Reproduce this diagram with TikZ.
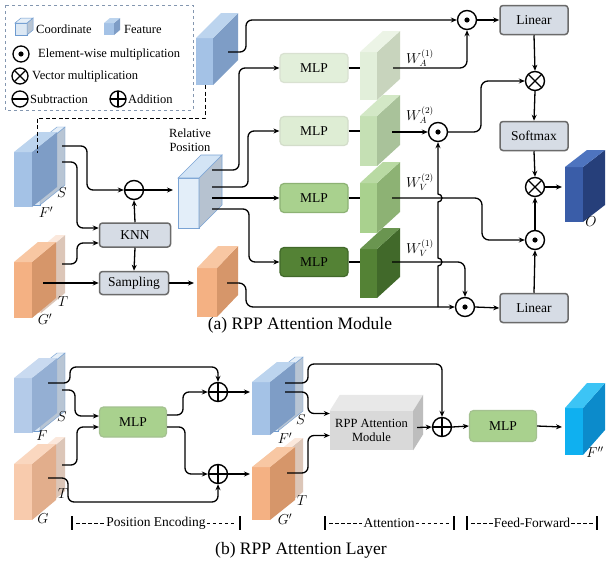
\documentclass[tikz,border=0pt]{standalone}
\usepackage{fontspec}
\setmainfont{Liberation Serif}
\usetikzlibrary{arrows.meta,calc}
\newcommand{\myfs}[1]{\fontsize{#1}{#1}\selectfont}
\newcommand{\cuboid}[9]{%
  \path[#7] (#1,#2) rectangle ++(#3,#4);
  \path[#8] ({#1+#3},#2) -- ++(#5,-#6) -- ++(0,#4) -- ++(-#5,#6) -- cycle;
  \path[#9] (#1,#2) -- ++(#5,-#6) -- ++(#3,0) -- ++(-#5,#6) -- cycle;}
\definecolor{blueF}{HTML}{A4C2E6}\definecolor{blueS}{HTML}{7E9DC6}\definecolor{blueT}{HTML}{BCD4EE}
\definecolor{bblF}{HTML}{B4CBE9}\definecolor{bblS}{HTML}{94AFD3}\definecolor{bblT}{HTML}{C9DAF0}
\definecolor{coordF}{HTML}{DCE8F4}\definecolor{coordS}{HTML}{B8C5D4}\definecolor{coordT}{HTML}{E6EFF8}\definecolor{coordL}{HTML}{6E9BD0}
\definecolor{orF}{HTML}{F4B183}\definecolor{orS}{HTML}{D6966A}\definecolor{orT}{HTML}{F8C7A3}
\definecolor{borF}{HTML}{F8CBAD}\definecolor{borS}{HTML}{E2AE8C}\definecolor{borT}{HTML}{FAD7BF}
\definecolor{ocF}{HTML}{F9DECD}\definecolor{ocS}{HTML}{DCC6B8}\definecolor{ocT}{HTML}{FBE8DC}
\definecolor{relF}{HTML}{E3EEF9}\definecolor{relS}{HTML}{B6C2D0}\definecolor{relT}{HTML}{D3E4F5}\definecolor{relL}{HTML}{7AA3D4}
\definecolor{gfill}{HTML}{D6DCE5}\definecolor{gline}{HTML}{6B6B6B}
\definecolor{oF}{HTML}{3A5DA8}\definecolor{oS}{HTML}{263F7A}\definecolor{oT}{HTML}{4E74BF}
\definecolor{ffF}{HTML}{0FB0F0}\definecolor{ffS}{HTML}{0C8BCB}\definecolor{ffT}{HTML}{3CC4F5}
\definecolor{rF}{HTML}{D9D9D9}\definecolor{rT}{HTML}{E8E8E8}\definecolor{rS}{HTML}{BDBDBD}
\definecolor{g1F}{HTML}{E2EFDA}\definecolor{g1S}{HTML}{C8D4BD}\definecolor{g1T}{HTML}{ECF4E6}
\definecolor{g2F}{HTML}{C5E0B4}\definecolor{g2S}{HTML}{A9C29A}\definecolor{g2T}{HTML}{D3E8C6}
\definecolor{g3F}{HTML}{A9D18E}\definecolor{g3S}{HTML}{8DB274}\definecolor{g3T}{HTML}{B9DAA3}
\definecolor{g4F}{HTML}{548235}\definecolor{g4S}{HTML}{41692A}\definecolor{g4T}{HTML}{6A9550}
\definecolor{legL}{HTML}{8497B0}
\begin{document}
\begin{tikzpicture}[x=1pt,y=-1pt,
  arr/.style={-{Stealth[length=6pt,width=5pt]}, line width=1.3pt},
  ln/.style={line width=1.3pt},
  rc/.style={rounded corners=6pt},
  op/.style={circle, draw, line width=1.4pt, fill=white, minimum size=19pt, inner sep=0pt},
  lop/.style={minimum size=16pt, line width=1.3pt},
  odot/.style={op, path picture={\fill[black] (path picture bounding box.center) circle (2.6pt);}},
  otimes/.style={op, path picture={\draw[black, line width=1.3pt] (path picture bounding box.north west) -- (path picture bounding box.south east) (path picture bounding box.north east) -- (path picture bounding box.south west);}},
  oplus/.style={op, path picture={\draw[black, line width=1.3pt] (path picture bounding box.north) -- (path picture bounding box.south) (path picture bounding box.west) -- (path picture bounding box.east);}},
  ominus/.style={op, path picture={\draw[black, line width=1.3pt] (path picture bounding box.west) -- (path picture bounding box.east);}},
  gbox/.style={draw=gline, fill=gfill, line width=1.5pt, rounded corners=3pt, minimum width=68pt, minimum height=29pt, inner sep=0pt, font=\myfs{13.5}},
  mbox/.style={line width=1.2pt, rounded corners=4pt, minimum width=68pt, minimum height=29pt, inner sep=0pt, font=\myfs{13.5}},
  lt/.style={font=\myfs{12.5}, inner sep=0pt, anchor=west},
  lab/.style={font=\myfs{14}, inner sep=0pt},
  wl/.style={font=\myfs{13.5}, inner sep=0pt},
  captxt/.style={font=\myfs{17.5}, inner sep=0pt},
  brtxt/.style={font=\myfs{13.5}, inner sep=1pt, fill=white},
  brdash/.style={line width=0.8pt, dash pattern=on 3.5pt off 2.5pt},
  barline/.style={line width=1.6pt}]
\useasboundingbox (0,0) rectangle (610,562);
\fill[white] (0,0) rectangle (610,562);

% ---------- legend ----------
\draw[legL, dashed, line width=0.9pt] (5,5) rectangle (193,110);
\cuboid{15}{23}{12}{12}{6}{5}{fill=coordF,draw=coordL,line width=0.5pt}{fill=coordS,draw=coordL,line width=0.5pt}{fill=coordT,draw=coordL,line width=0.5pt}
\node[lt] (lc) at (36,29) {Coordinate};
\cuboid{104}{23}{10}{12}{6}{5}{fill=blueF}{fill=blueS}{fill=blueT}
\node[lt] (lf) at (124,29) {Feature};
\node[odot, lop] (l1) at (21,54) {};
\node[lt] (l1t) at (38,54) {Element-wise multiplication};
\node[otimes, lop] (l2) at (20,76) {};
\node[lt] (l2t) at (32,76) {Vector multiplication};
\node[ominus, lop] (l3) at (20,99) {};
\node[lt] (l3t) at (30,99) {Subtraction};
\node[oplus, lop] (l4) at (118,99) {};
\node[lt] (l4t) at (128,99) {Addition};

% ---------- part (a) cuboids ----------
\cuboid{196}{38}{17}{47}{25}{25}{fill=blueF}{fill=blueS}{fill=blueT}
% F'
\cuboid{32}{147}{8}{58}{25}{20}{fill=coordF,draw=coordL,line width=0.4pt}{fill=coordS,draw=coordL,line width=0.4pt}{fill=coordT,draw=coordL,line width=0.4pt}
\cuboid{14}{152}{18}{55}{25}{20}{fill=blueF}{fill=blueS}{fill=blueT}
% G'
\cuboid{32}{255}{9}{58}{24}{20}{fill=ocF}{fill=ocS}{fill=ocT}
\cuboid{14}{262}{18}{56}{24}{20}{fill=orF}{fill=orS}{fill=orT}
% sampled
\cuboid{197}{268}{20}{49}{21}{22}{fill=orF}{fill=orS}{fill=orT}
% relative position
\cuboid{178}{178}{21}{50}{23}{23}{fill=relF,draw=relL,line width=0.6pt}{fill=relS,draw=relL,line width=0.6pt}{fill=relT,draw=relL,line width=0.6pt}
% green
\cuboid{360}{52}{17}{48}{23}{21}{fill=g1F}{fill=g1S}{fill=g1T}
\cuboid{360}{116}{17}{50}{23}{21}{fill=g2F}{fill=g2S}{fill=g2T}
\cuboid{360}{183}{17}{50}{23}{21}{fill=g3F}{fill=g3S}{fill=g3T}
\cuboid{360}{249}{17}{49}{23}{21}{fill=g4F}{fill=g4S}{fill=g4T}
% O
\cuboid{565}{167}{18}{55}{22}{17}{fill=oF}{fill=oS}{fill=oT}

% labels (a)
\node[lab] (lS1) at (62,193) {$S$};
\node[lab] (lF1) at (46,212) {$F'$};
\node[lab] (lT1) at (63,302) {$T$};
\node[lab] (lG1) at (45,319) {$G'$};
\node[lab] (lO) at (591,222) {$O$};
\node[font=\myfs{12.5}, align=center, inner sep=0pt] (relt) at (190,140) {Relative\\[1pt]Position};
\node[wl] (wa1) at (420,58) {$W_A^{(1)}$};
\node[wl] (wa2) at (420,115) {$W_A^{(2)}$};
\node[wl] (wv2) at (420,182) {$W_V^{(2)}$};
\node[wl] (wv1) at (420,248) {$W_V^{(1)}$};

% nodes (a)
\node[ominus] (sub) at (134,190) {};
\node[gbox, minimum width=71pt, minimum height=24pt] (knn) at (135,235) {KNN};
\node[gbox, minimum width=69pt, minimum height=23pt] (samp) at (134,283) {Sampling};
\node[mbox, fill=g1F, draw=g1S!70] (mlp1) at (314,68) {MLP};
\node[mbox, fill=g1F!85!g2F, draw=g1S!80] (mlp2) at (314,131) {MLP};
\node[mbox, fill=g3F, draw=g3S] (mlp3) at (314,198) {MLP};
\node[mbox, fill=g4F, draw=g4S] (mlp4) at (314,262) {MLP};
\node[odot] (o1) at (467,20) {};
\node[odot] (o2) at (438,132) {};
\node[odot] (o3) at (535,240) {};
\node[odot] (o4) at (465,307) {};
\node[otimes] (x1) at (535,81) {};
\node[otimes] (x2) at (535,187) {};
\node[gbox] (lin1) at (534,20) {Linear};
\node[gbox] (soft) at (534,136) {Softmax};
\node[gbox] (lin2) at (534,308) {Linear};

% coordinates (a)
\coordinate (tf) at (228,52);
\coordinate (s1) at (62,146);
\coordinate (s2) at (62,162);
\coordinate (t1) at (62,264);
\coordinate (g1) at (43,283);
\coordinate (sampin) at (194,283);
\coordinate (relin) at (173,190);
\coordinate (r1) at (212,170);
\coordinate (r2) at (212,187);
\coordinate (r3) at (212,198);
\coordinate (r4) at (212,209);
\coordinate (c1i) at (360,68);
\coordinate (c2i) at (360,131);
\coordinate (c3i) at (360,198);
\coordinate (c4i) at (360,262);
\coordinate (c1o) at (393,68);
\coordinate (c2o) at (392,132);
\coordinate (c3o) at (392,198);
\coordinate (c4o) at (392,262);
\coordinate (samo) at (227,283);
\coordinate (brc) at (438,307);
\coordinate (oin) at (562,187);

% connectors (a)
\draw[arr, rc] (tf) -- (246,52) |- (o1.west);
\draw[arr, rc] (s1) -- (87,146) |- (sub.west);
\draw[arr, rc] (s2) -- (77,162) |- ($(knn.west)+(0,-7)$);
\draw[arr, rc] (t1) -- (77,264) |- ($(knn.west)+(0,8)$);
\draw[arr] (g1) -- (samp.west);
\draw[arr] (knn.north) -- (sub.south);
\draw[arr] (knn.south) -- (samp.north);
\draw[arr] (samp.east) -- (sampin);
\draw[arr] (sub.east) -- (relin);
\draw[arr, rc] (r1) -- (239,170) |- (mlp1.west);
\draw[arr, rc] (r2) -- (248,187) |- (mlp2.west);
\draw[arr] (r3) -- (mlp3.west);
\draw[arr, rc] (r4) -- (249,209) |- (mlp4.west);
\draw[ln] (mlp1.east) -- (c1i);
\draw[ln] (mlp2.east) -- (c2i);
\draw[ln] (mlp3.east) -- (c3i);
\draw[ln] (mlp4.east) -- (c4i);
\draw[arr, rounded corners=7pt] (c1o) -| (o1.south);
\draw[arr] (c2o) -- (o2.west);
\draw[arr, rounded corners=7pt] (o2.east) -- (481,132) |- (x1.west);
\draw[arr, rounded corners=7pt] (c3o) -- (482,198) |- (o3.west);
\draw[arr, rounded corners=7pt] (c4o) -| (o4.north);
\draw[arr, rounded corners=7pt] (samo) -- (246,283) |- (o4.west);
\draw[arr] (brc) -- (438,266) arc[start angle=90,end angle=-90,radius=4] -- (438,202) arc[start angle=90,end angle=-90,radius=4] -- (o2.south);
\draw[arr] (o1.east) -- (lin1.west);
\draw[arr] (lin1.south) -- (x1.north);
\draw[arr] (x1.south) -- (soft.north);
\draw[arr] (soft.south) -- (x2.north);
\draw[arr] (x2.east) -- (oin);
\draw[arr] (o3.north) -- (x2.south);
\draw[arr] (lin2.north) -- (o3.south);
\draw[arr] (o4.east) -- (lin2.west);
% dashed link legend -> F'
\coordinate (fb) at (205,85);
\coordinate (fct) at (37,153);
\draw[line width=0.9pt, dash pattern=on 4pt off 2.5pt] (fb) -- (205,118) -- (37,118) -- (fct);

\node[captxt] (capa) at (300,325) {(a) RPP Attention Module};

% ---------- part (b) ----------
\cuboid{32}{373}{8}{58}{25}{20}{fill=coordF,draw=coordL,line width=0.4pt}{fill=coordS,draw=coordL,line width=0.4pt}{fill=coordT,draw=coordL,line width=0.4pt}
\cuboid{14}{378}{18}{55}{25}{20}{fill=bblF}{fill=bblS}{fill=bblT}
\cuboid{32}{457}{9}{54}{24}{20}{fill=ocF}{fill=ocS}{fill=ocT}
\cuboid{14}{464}{18}{56}{24}{20}{fill=borF}{fill=borS}{fill=borT}
\cuboid{270}{377}{8}{54}{25}{20}{fill=coordF,draw=coordL,line width=0.4pt}{fill=coordS,draw=coordL,line width=0.4pt}{fill=coordT,draw=coordL,line width=0.4pt}
\cuboid{252}{382}{18}{53}{25}{20}{fill=blueF}{fill=blueS}{fill=blueT}
\cuboid{270}{458}{8}{54}{25}{20}{fill=ocF}{fill=ocS}{fill=ocT}
\cuboid{252}{467}{18}{53}{25}{20}{fill=orF}{fill=orS}{fill=orT}
\cuboid{565}{408}{18}{47}{22}{25}{fill=ffF}{fill=ffS}{fill=ffT}

\node[lab] (lS2) at (62,417) {$S$};
\node[lab] (lF2) at (42,436) {$F$};
\node[lab] (lT2) at (63,494) {$T$};
\node[lab] (lG2) at (43,519) {$G$};
\node[lab] (lS3) at (301,420) {$S$};
\node[lab] (lF3) at (285,438) {$F'$};
\node[lab] (lT3) at (302,501) {$T$};
\node[lab] (lG3) at (285,519) {$G'$};
\node[lab] (lF4) at (595,452) {$F''$};

\node[mbox, fill=g3F, draw=g3S!80, minimum width=67pt, minimum height=30pt] (mlpb) at (133,422) {MLP};
\node[mbox, fill=g3F, draw=g3S!80, minimum width=67pt, minimum height=31pt] (mlpc) at (503,426) {MLP};
\node[oplus] (p1) at (218,392) {};
\node[oplus] (p2) at (218,474) {};
\node[oplus] (p3) at (442,427) {};
% RPP module box
\node[fill=rF, minimum width=83pt, minimum height=39pt, inner sep=0pt, align=center, font=\myfs{12.5}] (rpp) at (371.5,430.5) {RPP Attention\\[1pt]Module};
\fill[rT] (rpp.north west) -- ++(10,-16) -- ($(rpp.north east)+(10,-16)$) -- (rpp.north east) -- cycle;
\fill[rS] (rpp.north east) -- ++(10,-16) -- ($(rpp.south east)+(10,-16)$) -- (rpp.south east) -- cycle;

\coordinate (bf1) at (48,383);
\coordinate (bs1) at (62,390);
\coordinate (bt1) at (62,465);
\coordinate (bg1) at (48,478);
\coordinate (bfin) at (250,392);
\coordinate (bgin) at (250,474);
\coordinate (bf2) at (285,383);
\coordinate (bs2) at (285,392);
\coordinate (bg2) at (287,473);
\coordinate (ffin) at (562,427);

\draw[arr, rc] (bf1) -- (70,383) -- (70,367) -| (p1.north);
\draw[arr, rc] (bs1) -- (75,390) |- ($(mlpb.west)+(0,-6)$);
\draw[arr, rc] (bt1) -- (77,465) |- ($(mlpb.west)+(0,5)$);
\draw[arr, rc] (bg1) -- (68,478) -- (68,502) -| (p2.south);
\draw[arr, rc] ($(mlpb.east)+(0,-7)$) -- (183,415) |- (p1.west);
\draw[arr, rc] ($(mlpb.east)+(0,5)$) -- (185,427) |- (p2.west);
\draw[arr] (p1.east) -- (bfin);
\draw[arr] (p2.east) -- (bgin);
\draw[arr, rc] (bf2) -- (308,383) -- (308,364) -| (p3.north);
\draw[arr, rc] (bs2) -- (308,392) |- ($(rpp.west)+(0,-17)$);
\draw[arr, rc] (bg2) -- (308,473) |- ($(rpp.west)+(0,5)$);
\draw[arr] ($(rpp.east)+(4,-3)$) -- (p3.west);
\draw[arr] (p3.east) -- (mlpc.west);
\draw[arr] (mlpc.east) -- (ffin);

% brackets
\node[brtxt] (pe) at (156,523) {Position Encoding};
\node[brtxt] (att) at (389,523) {Attention};
\node[brtxt] (ffw) at (532,523) {Feed-Forward};
\coordinate (b1l) at (72,523);\coordinate (b1r) at (240,523);
\coordinate (b2l) at (325,523);\coordinate (b2r) at (454,523);
\coordinate (b3l) at (467,523);\coordinate (b3r) at (597,523);
\foreach \c in {b1l,b1r,b2l,b2r,b3l,b3r} {\draw[barline] ($(\c)+(0,-7)$) -- ($(\c)+(0,7)$);}
\draw[brdash] ($(b1l)+(4,0)$) -- (pe.west);
\draw[brdash] (pe.east) -- ($(b1r)+(-4,0)$);
\draw[brdash] ($(b2l)+(4,0)$) -- (att.west);
\draw[brdash] (att.east) -- ($(b2r)+(-4,0)$);
\draw[brdash] ($(b3l)+(4,0)$) -- (ffw.west);
\draw[brdash] (ffw.east) -- ($(b3r)+(-4,0)$);

\node[captxt] (capb) at (301,550) {(b) RPP Attention Layer};
\end{tikzpicture}
\end{document}
